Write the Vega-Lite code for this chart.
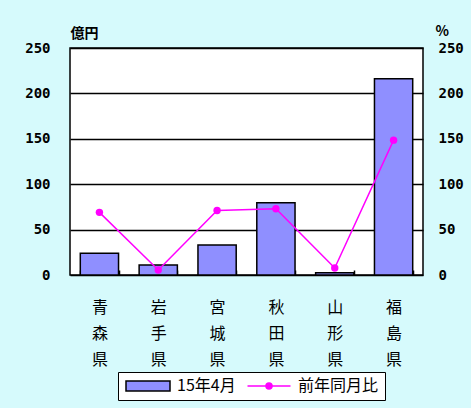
{
  "$schema": "https://vega.github.io/schema/vega-lite/v6.json",
  "autosize": {"type": "none"},
  "width": 353,
  "height": 227,
  "padding": {"left": 70, "top": 48, "right": 48, "bottom": 133},
  "background": "#D6FAFC",
  "config": {
    "view": {"fill": "white", "stroke": "black", "strokeWidth": 1.5},
    "axis": {"labelColor": "black", "titleColor": "black"},
    "legend": {
      "orient": "none", "legendX": 48, "legendY": 324, "direction": "horizontal",
      "fillColor": "white", "strokeColor": "black", "padding": 6,
      "labelFont": "Noto Sans CJK JP", "labelFontSize": 16, "labelColor": "black",
      "labelOffset": 21, "columnPadding": 8, "symbolSize": 100, "symbolOffset": 16,
      "symbolStrokeWidth": 1.5, "symbolOpacity": 1
    }
  },
  "data": {
    "values": [
      {"pref": "青森県", "amount": 24, "ratio": 69},
      {"pref": "岩手県", "amount": 11, "ratio": 5.5},
      {"pref": "宮城県", "amount": 33, "ratio": 71},
      {"pref": "秋田県", "amount": 79.5, "ratio": 73},
      {"pref": "山形県", "amount": 2.5, "ratio": 7.7},
      {"pref": "福島県", "amount": 216, "ratio": 148.5}
    ]
  },
  "encoding": {
    "x": {
      "field": "pref", "type": "nominal", "sort": null,
      "scale": {"paddingInner": 0.35, "paddingOuter": 0.175},
      "axis": {
        "title": null, "labelAngle": 0, "labelExpr": "split(datum.label, '')",
        "labelLineHeight": 26, "labelFont": "Noto Sans CJK JP", "labelFontSize": 16,
        "labelPadding": 29, "domain": false,
        "tickBand": "extent", "tickSize": -5, "tickColor": "black", "tickWidth": 1.5
      }
    }
  },
  "layer": [
    {
      "mark": {"type": "bar", "strokeWidth": 1.5},
      "encoding": {
        "y": {
          "field": "amount", "type": "quantitative",
          "scale": {"domain": [0, 250], "nice": false},
          "axis": {
            "orient": "left", "values": [0, 50, 100, 150, 200, 250],
            "title": "億円", "titleAngle": 0, "titleX": 0, "titleY": -8,
            "titleAlign": "left", "titleBaseline": "bottom",
            "titleFont": "Noto Sans CJK JP", "titleFontSize": 14, "titleFontWeight": "bold",
            "labelFont": "DejaVu Sans Mono", "labelFontSize": 14, "labelFontWeight": "bold",
            "labelPadding": 20, "tickSize": 0, "ticks": false, "domain": false,
            "grid": true, "gridColor": "black", "gridWidth": 1.5, "gridOpacity": 1
          }
        },
        "fill": {
          "datum": "15年4月",
          "scale": {"domain": ["15年4月", "前年同月比"], "range": ["#8F8FFF", "#FF00FF"]},
          "legend": {"title": null}
        },
        "stroke": {
          "datum": "15年4月",
          "scale": {"domain": ["15年4月", "前年同月比"], "range": ["black", "#FF00FF"]},
          "legend": {"title": null}
        }
      }
    },
    {
      "mark": {"type": "line", "color": "#FF00FF", "strokeWidth": 1.5, "point": {"filled": true, "size": 55, "color": "#FF00FF", "opacity": 1}},
      "encoding": {
        "y": {
          "field": "ratio", "type": "quantitative",
          "scale": {"domain": [0, 250], "nice": false},
          "axis": {
            "orient": "right", "values": [0, 50, 100, 150, 200, 250],
            "title": "%", "titleAngle": 0, "titleX": 12, "titleY": -10,
            "titleAlign": "left", "titleBaseline": "bottom",
            "titleFont": "Noto Sans CJK JP", "titleFontSize": 14, "titleFontWeight": "bold",
            "labelFont": "DejaVu Sans Mono", "labelFontSize": 14, "labelFontWeight": "bold",
            "labelPadding": 15, "tickSize": 0, "ticks": false, "domain": false, "grid": false
          }
        }
      }
    },
    {
      "mark": {"type": "point", "opacity": 0},
      "encoding": {
        "shape": {
          "datum": "前年同月比",
          "scale": {
            "domain": ["15年4月", "前年同月比"],
            "range": ["M-4.4,-1H4.4V1H-4.4Z", "M-4.3,0H4.3M0.6,0A0.6,0.6 0 1 1 -0.6,0A0.6,0.6 0 1 1 0.6,0"]
          },
          "legend": {"title": null}
        }
      }
    }
  ],
  "resolve": {"scale": {"y": "independent"}}
}
